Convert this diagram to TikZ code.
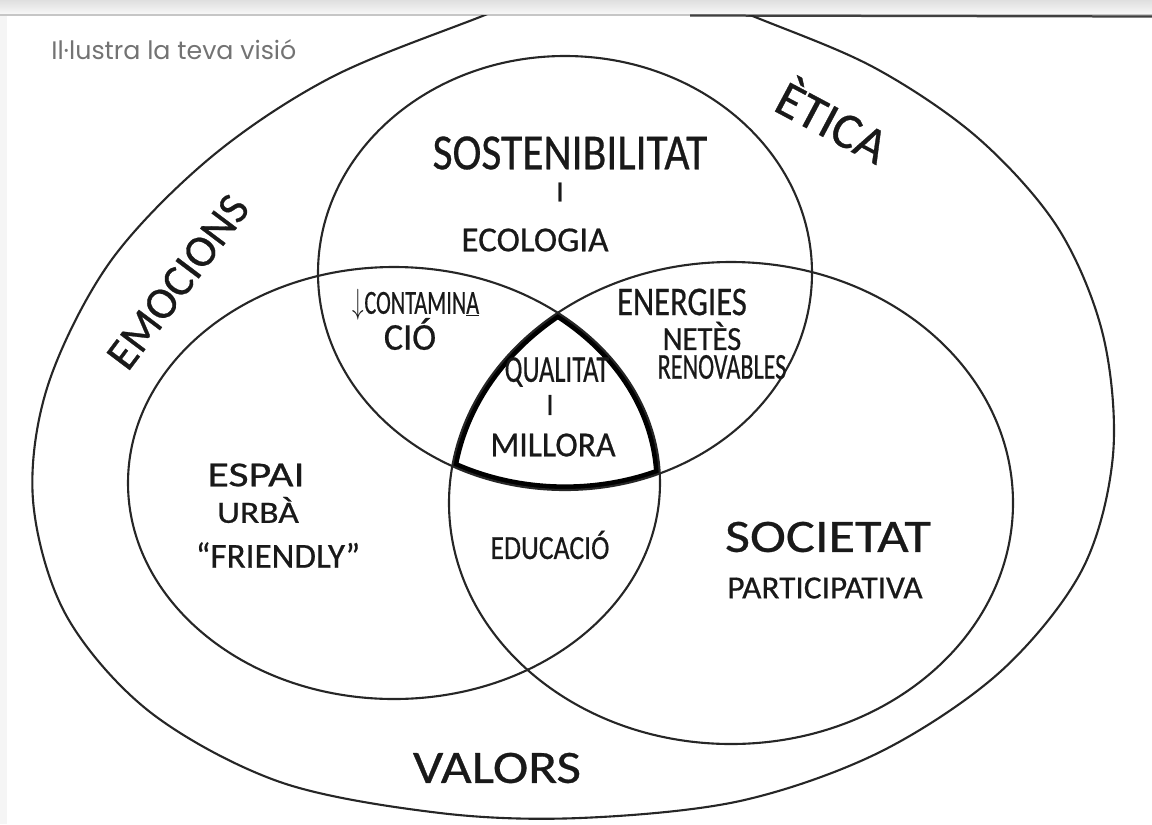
\documentclass[tikz,border=0pt]{standalone}
\usepackage{fontspec}
\setmainfont{Carlito}
\newfontfamily\handfont{Carlito}[FakeBold=0.6, Ligatures=TeX]
\newfontfamily\titlefont{Poppins}
\usetikzlibrary{positioning}

\begin{document}
\begin{tikzpicture}[x=0.025cm, y=-0.025cm,
  venn/.style={draw=black!85, line width=1.5pt},
  core/.style={draw=black, line width=8pt},
  hand/.style={font=\handfont\fontsize{#1}{#1}\selectfont, inner sep=0pt, text=black!90},
  topc/.style={x radius=247, y radius=217},
  leftc/.style={x radius=266, y radius=216},
  rightc/.style={x radius=282, y radius=241}
]
  \useasboundingbox (0,0) rectangle (1152,824);
  % page header
  \shade[top color=gray!25, bottom color=gray!6] (0,0) rectangle (1152,14);
  \fill[gray!8] (0,15) rectangle (7,824);
  \draw[gray!45, line width=0.8pt] (0,15) -- (1152,15);
  \draw[black!75, line width=1.6pt] (690,15.5) -- (1152,16.5);
  \node[font=\titlefont\fontsize{18}{18}\selectfont, text=black!55, anchor=west, inner sep=0pt] (title) at (51,50) {Il·lustra la teva visió};

  % outer shape (valors)
  \begin{scope}
    \clip (0,15) rectangle (1152,824);
    \draw[venn] plot[smooth cycle, tension=0.55] coordinates {
      (620,-35) (480,17) (330,78) (210,158) (110,262) (48,385) (33,500)
      (66,615) (150,712) (280,782) (440,813) (580,818) (740,801) (880,752)
      (1000,672) (1082,570) (1113,455) (1103,335) (1058,228) (978,138)
      (875,68) (755,17)};
  \end{scope}

  \coordinate (ctop) at (565,273);
  \coordinate (cleft) at (394,483);
  \coordinate (cright) at (731,503);

  % thick middle part
  \begin{scope}
    \clip (ctop) ellipse [topc];
    \clip (cleft) ellipse [leftc];
    \clip (cright) ellipse [rightc];
    \draw[core] (ctop) ellipse [topc];
    \draw[core] (cleft) ellipse [leftc];
    \draw[core] (cright) ellipse [rightc];
  \end{scope}

  \draw[venn] (ctop) ellipse [topc];
  \draw[venn] (cleft) ellipse [leftc];
  \draw[venn] (cright) ellipse [rightc];

  % labels
  \node[hand=36, xscale=0.86] (sost) at (570,153) {SOSTENIBILITAT};
  \node[hand=21] (and1) at (560,192) {I};
  \node[hand=25] (ecol) at (535,240) {ECOLOGIA};
  \node[hand=24, xscale=0.66] (cont) at (416,305) {$\downarrow$CONTAMIN\underline{A}};
  \node[hand=27, xscale=0.95] (cio) at (410,334) {CIÓ};
  \node[hand=29, xscale=0.8] (ener) at (682,302) {ENERGIES};
  \node[hand=24, xscale=0.91] (netes) at (702,336) {NETÈS};
  \node[hand=26, xscale=0.66] (renov) at (722,367) {RENOVABLES};
  \node[hand=27, xscale=0.7] (qual) at (557,372) {QUALITAT};
  \node[hand=22] (and2) at (550,405) {I};
  \node[hand=25, xscale=0.96] (mill) at (553,445) {MILLORA};
  \node[hand=25, xscale=1.25] (espai) at (256,475) {ESPAI};
  \node[hand=22, xscale=1.15] (urba) at (258,510) {URBÀ};
  \node[hand=25] (friend) at (278,555) {“FRIENDLY”};
  \node[hand=24, xscale=0.82] (educ) at (550,545) {EDUCACIÓ};
  \node[hand=33, xscale=1.17] (soc) at (828,537) {SOCIETAT};
  \node[hand=23, xscale=1.03] (part) at (825,588) {PARTICIPATIVA};
  \node[hand=32, rotate=53] (emoc) at (178,282) {EMOCIONS};
  \node[hand=36, rotate=-28] (etica) at (834,119) {ÈTICA};
  \node[hand=33, xscale=1.15] (valors) at (497,768) {VALORS};
\end{tikzpicture}
\end{document}
